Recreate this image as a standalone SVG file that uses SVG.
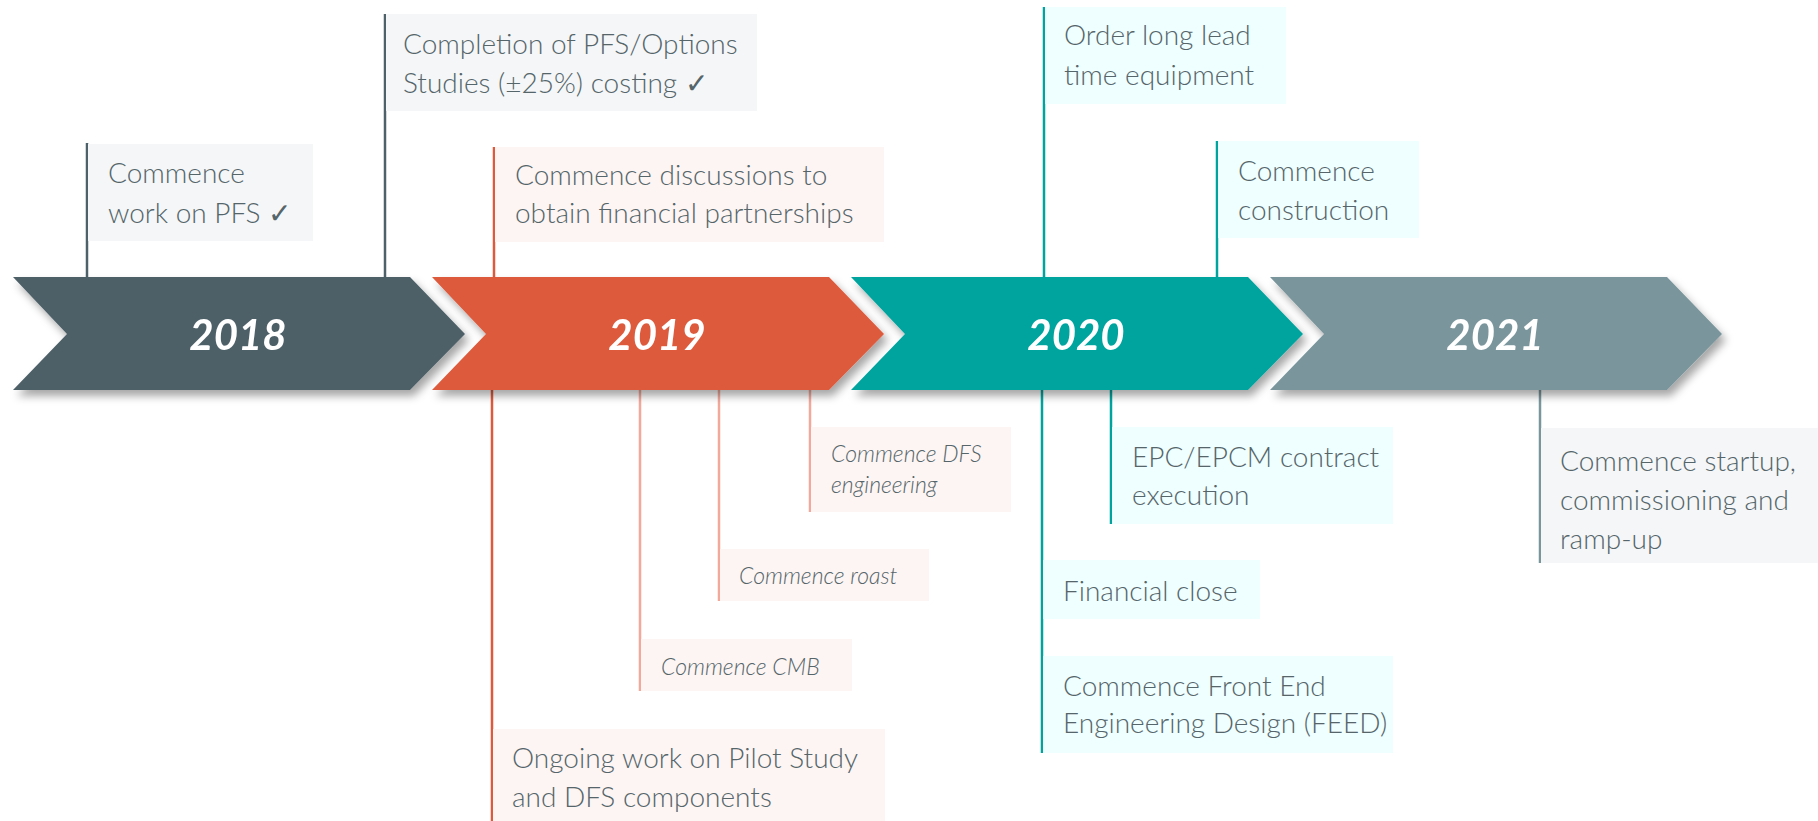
<svg xmlns="http://www.w3.org/2000/svg" width="1818" height="821" viewBox="0 0 1818 821">
<defs>
<filter id="sh" x="-5%" y="-20%" width="115%" height="150%">
<feDropShadow dx="4" dy="6" stdDeviation="4" flood-color="#000" flood-opacity="0.35"/>
</filter>
</defs>
<style>
.t{font-family:Lato,"Noto Sans","DejaVu Sans",sans-serif;font-weight:300;font-size:28px;fill:#55656a}
.i{font-family:Lato,"Noto Sans","DejaVu Sans",sans-serif;font-weight:300;font-style:italic;font-size:23px;fill:#55656a}
.y{font-family:Lato,"Noto Sans","DejaVu Sans",sans-serif;font-weight:700;font-style:italic;font-size:42px;fill:#fff;text-anchor:middle}
.bg{fill:#f4f6f7}.bp{fill:#fdf5f3}.bc{fill:#effefe}
.l{stroke-width:2.5;fill:none}
.l18{stroke:#4e6068}.l19{stroke:#dd5a3c}.l19b{stroke:#f2a99c}.l20{stroke:#00a49f}.l21{stroke:#7a969c}
</style>
<rect width="1818" height="821" fill="#fff"/>

<g id="connectors">
<line class="l l18" x1="87" y1="143" x2="87" y2="277"/>
<line class="l l18" x1="385" y1="14" x2="385" y2="277"/>
<line class="l l19" x1="494" y1="147" x2="494" y2="277"/>
<line class="l l19" x1="492" y1="390" x2="492" y2="821"/>
<line class="l l19b" x1="640" y1="390" x2="640" y2="691"/>
<line class="l l19b" x1="719" y1="390" x2="719" y2="601"/>
<line class="l l19b" x1="810" y1="390" x2="810" y2="512"/>
<line class="l l20" x1="1044" y1="7" x2="1044" y2="277"/>
<line class="l l20" x1="1217" y1="141" x2="1217" y2="277"/>
<line class="l l20" x1="1042" y1="390" x2="1042" y2="753"/>
<line class="l l20" x1="1111" y1="390" x2="1111" y2="524"/>
<line class="l l21" x1="1540" y1="390" x2="1540" y2="563"/>
</g>

<g id="chevron-2018" filter="url(#sh)">
<polygon points="13,277 410,277 465,334 410,390 13,390 67,334" fill="#4e6068"/>
<text class="y" x="238" y="350">2018</text>
</g>
<g id="chevron-2019" filter="url(#sh)">
<polygon points="432,277 829,277 884,334 829,390 432,390 486,334" fill="#dd5a3c"/>
<text class="y" x="657" y="350">2019</text>
</g>
<g id="chevron-2020" filter="url(#sh)">
<polygon points="851,277 1248,277 1303,334 1248,390 851,390 905,334" fill="#00a49f"/>
<text class="y" x="1076" y="350">2020</text>
</g>
<g id="chevron-2021" filter="url(#sh)">
<polygon points="1270,277 1667,277 1722,334 1667,390 1270,390 1324,334" fill="#7a969c"/>
<text class="y" x="1495" y="350">2021</text>
</g>

<g id="n-pfs">
<rect class="bg" x="88" y="144" width="225" height="97"/>
<text class="t" x="108" y="183">Commence</text>
<text class="t" x="108" y="223">work on PFS ✓</text>
</g>
<g id="n-completion">
<rect class="bg" x="386" y="14" width="371" height="97"/>
<text class="t" x="403" y="54">Completion of PFS/Options</text>
<text class="t" x="403" y="93">Studies (±25%) costing ✓</text>
</g>
<g id="n-discussions">
<rect class="bp" x="495" y="147" width="389" height="95"/>
<text class="t" x="515" y="185">Commence discussions to</text>
<text class="t" x="515" y="223">obtain financial partnerships</text>
</g>
<g id="n-ongoing">
<rect class="bp" x="493" y="729" width="392" height="92"/>
<text class="t" x="512" y="768">Ongoing work on Pilot Study</text>
<text class="t" x="512" y="807">and DFS components</text>
</g>
<g id="n-cmb">
<rect class="bp" x="641" y="639" width="211" height="52"/>
<text class="i" x="661" y="675">Commence CMB</text>
</g>
<g id="n-roast">
<rect class="bp" x="720" y="549" width="209" height="52"/>
<text class="i" x="739" y="584">Commence roast</text>
</g>
<g id="n-dfs">
<rect class="bp" x="811" y="427" width="200" height="85"/>
<text class="i" x="831" y="462">Commence DFS</text>
<text class="i" x="831" y="493">engineering</text>
</g>
<g id="n-order">
<rect class="bc" x="1045" y="7" width="241" height="97"/>
<text class="t" x="1064" y="45">Order long lead</text>
<text class="t" x="1064" y="85">time equipment</text>
</g>
<g id="n-construction">
<rect class="bc" x="1218" y="141" width="201" height="97"/>
<text class="t" x="1238" y="181">Commence</text>
<text class="t" x="1238" y="220">construction</text>
</g>
<g id="n-epc">
<rect class="bc" x="1112" y="427" width="281" height="97"/>
<text class="t" x="1132" y="467">EPC/EPCM contract</text>
<text class="t" x="1132" y="505">execution</text>
</g>
<g id="n-financial">
<rect class="bc" x="1043" y="560" width="217" height="59"/>
<text class="t" x="1063" y="601">Financial close</text>
</g>
<g id="n-feed">
<rect class="bc" x="1043" y="656" width="350" height="97"/>
<text class="t" x="1063" y="696">Commence Front End</text>
<text class="t" x="1063" y="733">Engineering Design (FEED)</text>
</g>
<g id="n-startup">
<rect class="bg" x="1541" y="428" width="277" height="135"/>
<text class="t" x="1560" y="471">Commence startup,</text>
<text class="t" x="1560" y="510">commissioning and</text>
<text class="t" x="1560" y="549">ramp-up</text>
</g>
</svg>
